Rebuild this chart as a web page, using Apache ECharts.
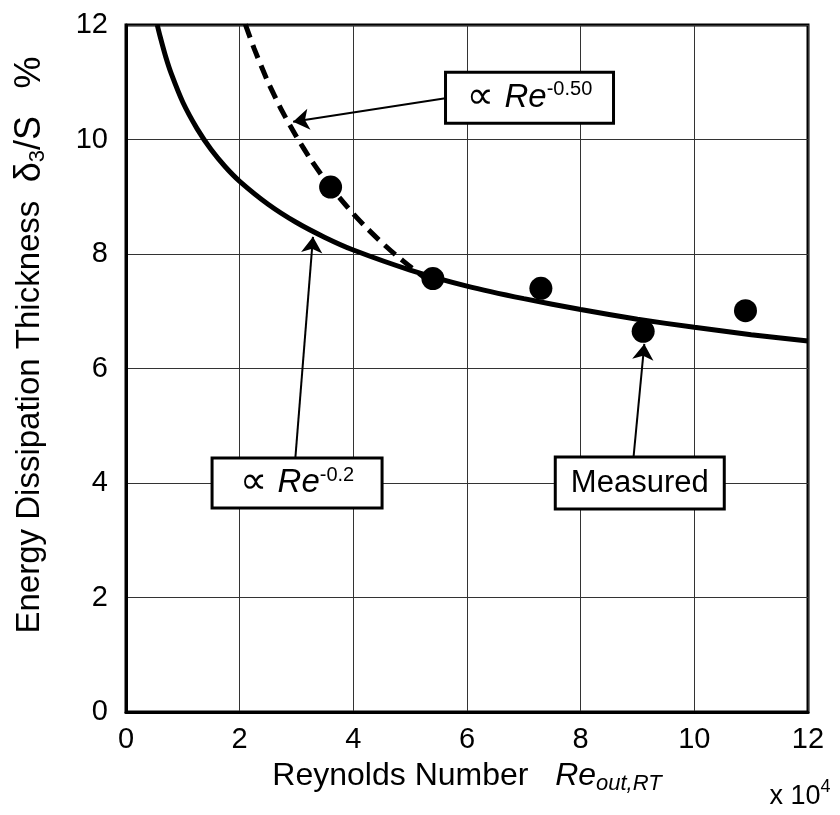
<!DOCTYPE html>
<html><head><meta charset="utf-8">
<script src="https://cdn.jsdelivr.net/npm/echarts@6/dist/echarts.min.js"></script>
<style>html,body{margin:0;padding:0;background:#fff}#c{width:840px;height:815px}</style>
</head><body><div id="c"></div>
<script>
// ---- data (Re in units of 1e4, delta3/S in %) ----
const measuredX = [3.6, 5.4, 7.3, 9.1, 10.9];
const measuredY = [9.17, 7.57, 7.40, 6.65, 7.01];
const solidX = [0.55, 0.6, 0.7, 0.8, 1.0, 1.25, 1.5, 1.75, 2, 2.5, 3, 3.5, 4, 5, 6, 7, 8, 9, 10, 11, 12];
const solidY = [12.0, 11.80, 11.44, 11.14, 10.65, 10.19, 9.82, 9.52, 9.27, 8.87, 8.55, 8.29, 8.07, 7.72, 7.44, 7.22, 7.03, 6.86, 6.72, 6.59, 6.48];
const dashX = [2.1, 2.25, 2.5, 2.75, 3.0, 3.25, 3.5, 3.75, 4.0, 4.25, 4.5, 4.75, 5.0, 5.25];
const dashY = [12.01, 11.60, 11.00, 10.49, 10.05, 9.65, 9.30, 8.99, 8.70, 8.44, 8.20, 7.98, 7.78, 7.59];
const xTickLabels = ['0', '2', '4', '6', '8', '10', '12'];
const yTickLabels = ['0', '2', '4', '6', '8', '10', '12'];
// annotation boxes and arrows, in data coordinates
const boxTexts = ['{a|∝ }{re|Re}{sup|-0.50}', '{a|∝ }{re|Re}{sup|-0.2}', '{m|Measured}'];
const boxCenters = [[7.1, 10.73], [3.01, 4.0], [9.04, 4.0]];
const arrowFrom = [[5.62, 10.72], [2.98, 4.44], [8.93, 4.45]];
const arrowTo = [[2.94, 10.31], [3.29, 8.30], [9.12, 6.43]];

const FONT = '"Liberation Sans", Arial, "DejaVu Sans", sans-serif';
const zip = (xs, ys) => xs.map((x, i) => [x, ys[i]]);
const boxSizes = [[165, 48], [167, 47], [166, 49]];

const chart = echarts.init(document.getElementById('c'), null, {renderer: 'canvas'});
const makeRich = h => ({
  a: {fontSize: 38, fontFamily: FONT, color: '#000', lineHeight: h},
  re: {fontSize: 33, fontFamily: FONT, fontStyle: 'italic', color: '#000', lineHeight: h},
  sup: {fontSize: 20, fontFamily: FONT, color: '#000', lineHeight: 20, verticalAlign: 'top', padding: [6, 0, 0, 0]},
  m: {fontSize: 31, fontFamily: FONT, color: '#000', lineHeight: h}
});
chart.setOption({
  animation: false,
  backgroundColor: '#fff',
  grid: {left: 126, top: 25, right: 32, bottom: 103, show: true, borderColor: '#000', borderWidth: 3, backgroundColor: 'transparent'},
  xAxis: {
    type: 'value', min: 0, max: 12, interval: 2,
    axisLine: {show: true, lineStyle: {color: '#000', width: 3}},
    axisTick: {show: false},
    splitLine: {show: true, lineStyle: {color: '#333', width: 1}},
    axisLabel: {color: '#000', fontSize: 29, fontFamily: FONT, margin: 13,
      formatter: v => xTickLabels[Math.round(v / 2)]},
    name: 'Reynolds Number   {re|Re}{sub|out,RT}',
    nameLocation: 'middle', nameGap: 45,
    nameTextStyle: {color: '#000', fontSize: 32, fontFamily: FONT,
      rich: {re: {fontSize: 32, fontStyle: 'italic', fontFamily: FONT, color: '#000'},
             sub: {fontSize: 22, fontStyle: 'italic', fontFamily: FONT, color: '#000', padding: [16, 0, 0, 0]}}}
  },
  yAxis: {
    type: 'value', min: 0, max: 12, interval: 2,
    axisLine: {show: true, lineStyle: {color: '#000', width: 3}},
    axisTick: {show: false},
    splitLine: {show: true, lineStyle: {color: '#333', width: 1}},
    axisLabel: {color: '#000', fontSize: 29, fontFamily: FONT, margin: 18,
      formatter: v => yTickLabels[Math.round(v / 2)]}
  },
  graphic: [
    {type: 'text', x: 30, y: 345, rotation: Math.PI / 2, z: 10,
     style: {text: 'Energy Dissipation Thickness  {d|δ}{s|3}{n|/S}   {n|%}',
       fontSize: 33, fontFamily: FONT, fill: '#000', align: 'center', verticalAlign: 'middle',
       rich: {d: {fontSize: 36, fontFamily: FONT, color: '#000'},
              s: {fontSize: 22, fontFamily: FONT, color: '#000', padding: [16, 0, 0, 0]},
              n: {fontSize: 36, fontFamily: FONT, color: '#000'}}}},
    {type: 'text', x: 800, y: 797, z: 10,
     style: {text: '{a|x 10}{b|4}', align: 'center', verticalAlign: 'middle',
       rich: {a: {fontSize: 27, fontFamily: FONT, color: '#000'},
              b: {fontSize: 18, fontFamily: FONT, color: '#000', padding: [0, 0, 20, 0]}}}}
  ],
  series: [
    {type: 'line', name: 'Re^-0.2', data: zip(solidX, solidY), showSymbol: false, smooth: 0.2,
     lineStyle: {color: '#000', width: 5}, z: 3, clip: true},
    {type: 'line', name: 'Re^-0.5', data: zip(dashX, dashY), showSymbol: false, smooth: 0.2,
     lineStyle: {color: '#000', width: 5, type: [14, 8]}, z: 3, clip: true},
    {type: 'scatter', name: 'Measured', data: zip(measuredX, measuredY), symbol: 'circle', symbolSize: 23,
     itemStyle: {color: '#000', opacity: 1}, z: 4,
     markLine: {
       silent: true, symbol: ['none', 'arrow'], symbolSize: 16,
       lineStyle: {color: '#000', width: 2, type: 'solid', opacity: 1},
       label: {show: false},
       data: arrowFrom.map((f, i) => [{coord: f}, {coord: arrowTo[i]}])
     },
     markPoint: {
       silent: true, symbol: 'rect', symbolSize: 1, itemStyle: {color: 'rgba(0,0,0,0)'},
       data: boxCenters.map((c, i) => ({
         coord: c,
         label: {show: true, position: 'inside', formatter: boxTexts[i],
           width: boxSizes[i][0], height: boxSizes[i][1], align: 'center', verticalAlign: 'middle',
           backgroundColor: '#fff', borderColor: '#000', borderWidth: 3, padding: 0,
           rich: makeRich(boxSizes[i][1])}
       }))
     }}
  ]
});
</script></body></html>
